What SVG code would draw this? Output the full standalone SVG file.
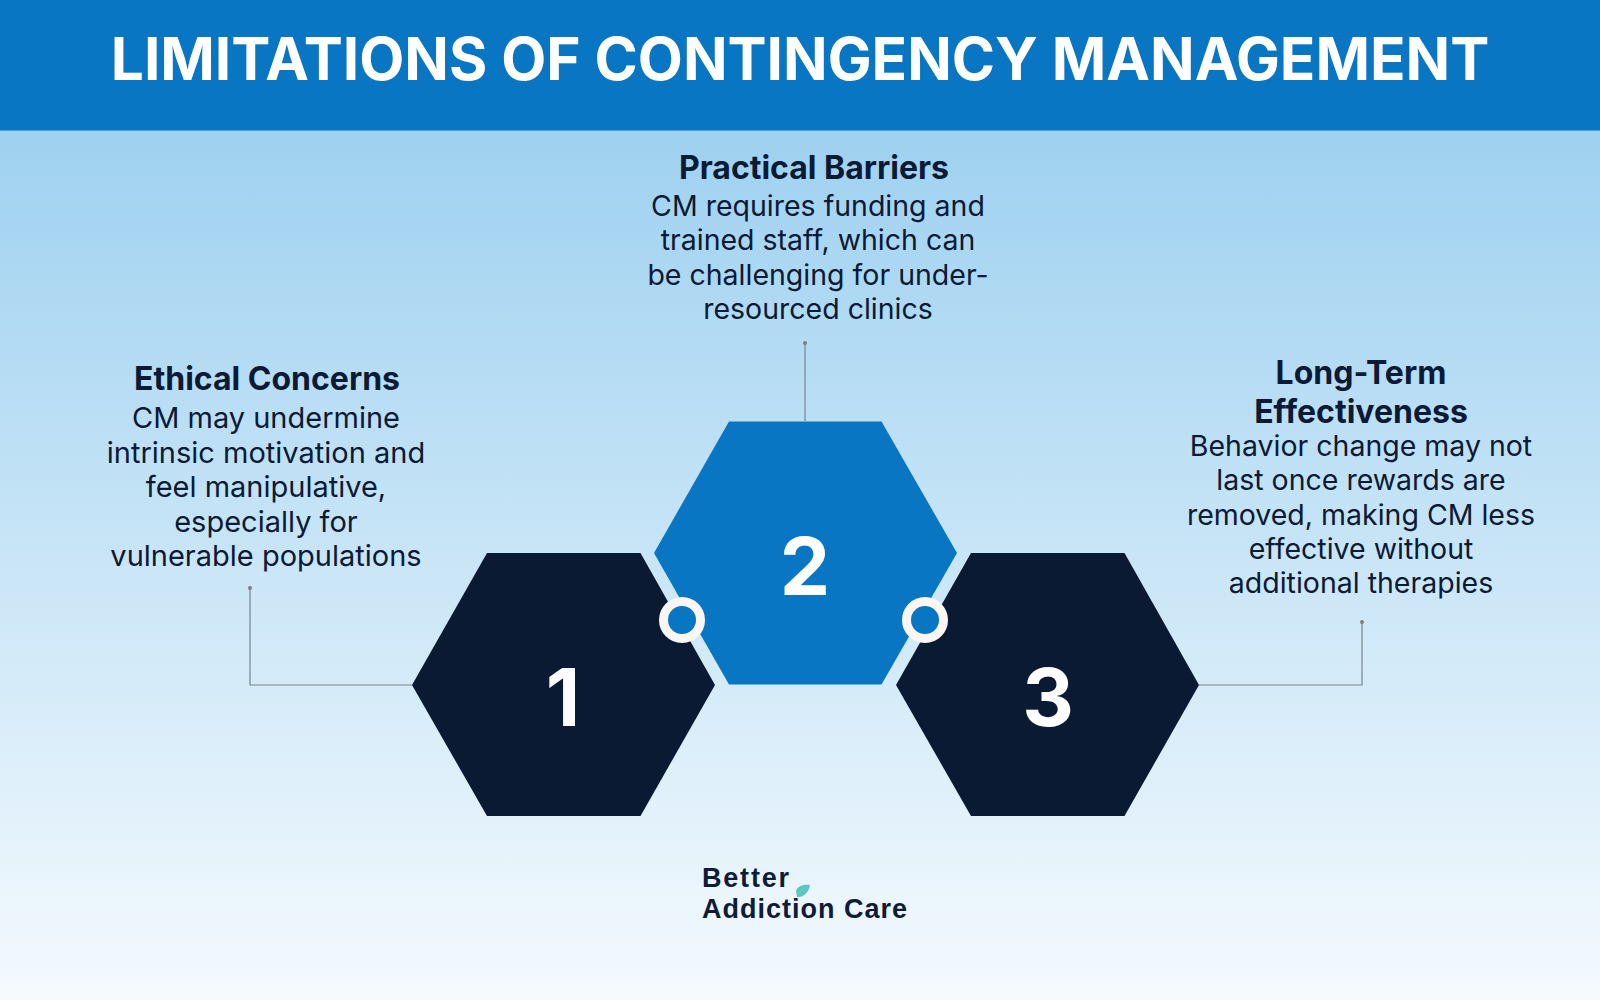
<svg xmlns="http://www.w3.org/2000/svg" width="1600" height="1000" viewBox="0 0 1600 1000">
<style>
text{font-family:"Inter","Liberation Sans",sans-serif;text-anchor:middle}
.h{font-size:32px;font-weight:700;fill:#0b1a35}
.b{font-size:28.500px;font-weight:400;fill:#0b1a35}
.bl{font-size:29px;font-weight:400;fill:#0b1a35}
.n{font-size:80px;font-weight:700;fill:#fff}
.k{fill:#0a1a33}.u{fill:#0876c2}
.c{fill:#0876c2;stroke:#f9f6f3;stroke-width:9}
.l{fill:none;stroke:#7b858e;stroke-width:1.200}
.d{fill:#76808a}
.g{font-family:"Liberation Sans",Arial,sans-serif;font-size:27px;font-weight:700;fill:#0e1c38;text-anchor:start}
</style>
<defs><linearGradient id="bg" x1="0" y1="0" x2="0" y2="1"><stop offset="0" stop-color="#9ed1f0"/><stop offset="1" stop-color="#f5fafe"/></linearGradient></defs>
<rect id="background" x="0" y="130" width="1600" height="870" fill="url(#bg)"/>
<g id="header"><rect width="1600" height="130.500" fill="#0876c2"/>
<text x="800" y="80" font-size="58.550" font-weight="700" fill="#fff">LIMITATIONS OF CONTINGENCY MANAGEMENT</text></g>
<g id="connectors">
<path class="l" d="M250 588V685H412"/><circle class="d" cx="250" cy="588" r="2"/>
<path class="l" d="M805 343V421"/><circle class="d" cx="805" cy="343" r="2"/>
<path class="l" d="M1199 685H1362V622"/><circle class="d" cx="1362" cy="622" r="2"/>
</g>
<g id="node-1"><polygon class="k" points="412,685 487,553 640.500,553 715,685 640.500,816 487,816"/><text class="n" x="563" y="726">1</text></g>
<g id="node-3"><polygon class="k" points="896,685 971,553 1124.500,553 1199,685 1124.500,816 971,816"/><text class="n" x="1048" y="726">3</text></g>
<g id="node-2"><polygon class="u" points="654,553 729,421.500 881.500,421.500 957,553 881.500,684.500 729,684.500"/><text class="n" x="805" y="595">2</text></g>
<g id="junction-left"><circle class="c" cx="682" cy="620" r="18.500"/></g>
<g id="junction-right"><circle class="c" cx="925" cy="620" r="18.500"/></g>
<g id="label-ethical"><text class="h" x="267" y="390">Ethical Concerns</text>
<text class="bl"><tspan x="266" y="428">CM may undermine</tspan><tspan x="266" y="463">intrinsic motivation and</tspan><tspan x="266" y="497">feel manipulative,</tspan><tspan x="266" y="532">especially for</tspan><tspan x="266" y="566">vulnerable populations</tspan></text></g>
<g id="label-practical"><text class="h" x="814" y="179">Practical Barriers</text>
<text class="b"><tspan x="818" y="216">CM requires funding and</tspan><tspan x="818" y="250">trained staff, which can</tspan><tspan x="818" y="285">be challenging for under-</tspan><tspan x="818" y="319">resourced clinics</tspan></text></g>
<g id="label-longterm"><text class="h"><tspan x="1361" y="384">Long-Term</tspan><tspan x="1361" y="423">Effectiveness</tspan></text>
<text class="b"><tspan x="1361" y="456">Behavior change may not</tspan><tspan x="1361" y="490">last once rewards are</tspan><tspan x="1361" y="525">removed, making CM less</tspan><tspan x="1361" y="559">effective without</tspan><tspan x="1361" y="593">additional therapies</tspan></text></g>
<g id="logo"><text class="g"><tspan x="702" y="887" letter-spacing="1.800">Better</tspan><tspan x="702" y="918" letter-spacing="1">Addiction Care</tspan></text>
<path d="M796 891C797 887 802 884 810 885C809 892 803 898 797 897Z" fill="#5cc7c0"/></g>
</svg>
